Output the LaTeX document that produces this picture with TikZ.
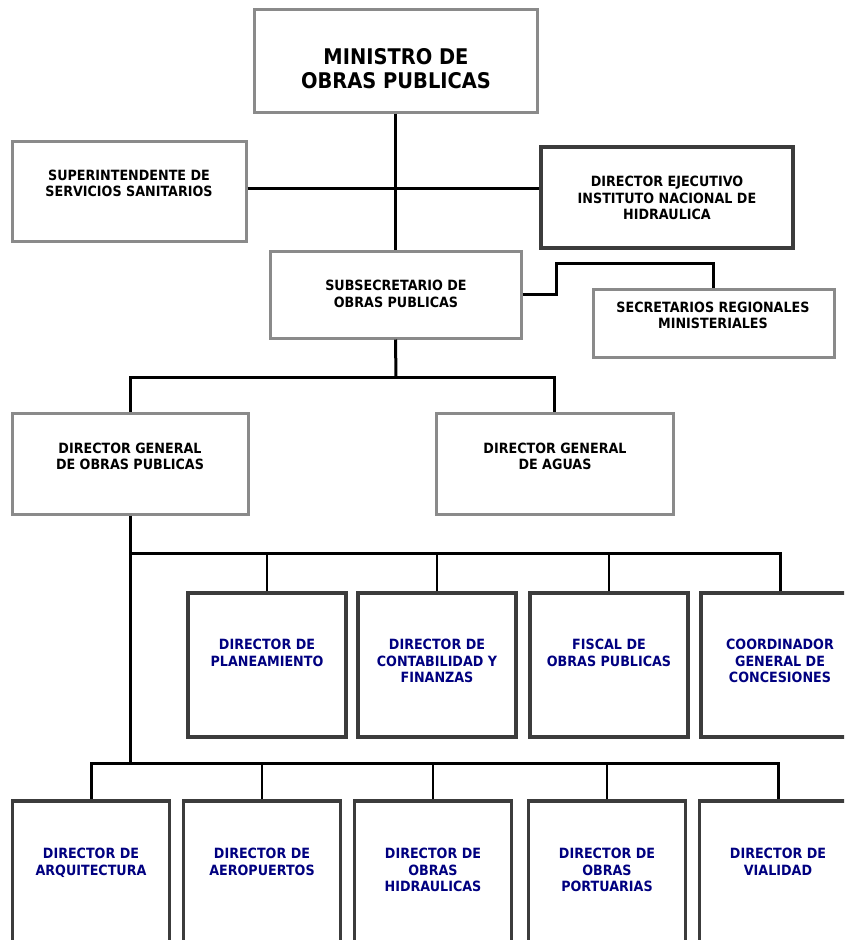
\documentclass[tikz,border=0pt]{standalone}
\usepackage{fontspec}
\setmainfont{DejaVu Sans}[FakeStretch=0.9]
\definecolor{boxgray}{HTML}{8A8A8A}
\definecolor{boxdark}{HTML}{3C3C3C}
\definecolor{navy}{HTML}{000080}
\tikzset{
  sz/.style 2 args={minimum width=#1*0.75pt, minimum height=#2*0.75pt},
  gbox/.style={draw=boxgray, line width=2.25pt, fill=white, inner sep=0pt},
  dbox/.style={draw=boxdark, line width=2.4pt, fill=white, inner sep=0pt},
  txt/.style={align=center, inner sep=0pt, font=\fontsize{10.6}{12.4}\selectfont\bfseries},
  bigtxt/.style={txt, font=\fontsize{16.2}{18}\selectfont\bfseries},
  ntxt/.style={txt, text=navy, anchor=north},
  link/.style={line width=2.25pt},
  drop/.style={line width=1.9pt}
}
\begin{document}
\begin{tikzpicture}[x=0.75pt, y=-0.75pt]
\path[use as bounding box] (0,0) rectangle (844,940);
\clip (0,0) rectangle (844,940);
% upper boxes
\node[gbox, sz={283}{103}] (ministro) at (395.5,60.5) {};
\node[gbox, sz={234}{100}] (superint) at (129,191) {};
\node[dbox, sz={252}{101}] (ejecutivo) at (667,197.5) {};
\node[gbox, sz={251}{87}] (subsec) at (395.5,294.5) {};
\node[gbox, sz={241}{68}] (seremi) at (713.5,323) {};
\node[gbox, sz={236}{101}] (dgop) at (130,463.5) {};
\node[gbox, sz={237}{101}] (dga) at (554.5,463.5) {};
\node[bigtxt] (ministro-t) at (396,69) {MINISTRO DE\\OBRAS PUBLICAS};
\node[txt] (superint-t) at (129,183.5) {SUPERINTENDENTE DE\\SERVICIOS SANITARIOS};
\node[txt] (ejecutivo-t) at (667,198) {DIRECTOR EJECUTIVO\\INSTITUTO NACIONAL DE\\HIDRAULICA};
\node[txt] (subsec-t) at (396,294) {SUBSECRETARIO DE\\OBRAS PUBLICAS};
\node[txt] (seremi-t) at (713,315.5) {SECRETARIOS REGIONALES\\MINISTERIALES};
\node[txt] (dgop-t) at (130,456.5) {DIRECTOR GENERAL\\DE OBRAS PUBLICAS};
\node[txt] (dga-t) at (555,456.5) {DIRECTOR GENERAL\\DE AGUAS};
% third row
\node[dbox, sz={158}{144}] (plan) at (267,665) {};
\node[dbox, sz={158}{144}] (conta) at (437,665) {};
\node[dbox, sz={158}{144}] (fiscal) at (609,665) {};
\node[dbox, sz={158}{144}] (conces) at (780,665) {};
\node[ntxt] (plan-t) at (267,639) {DIRECTOR DE\\PLANEAMIENTO};
\node[ntxt] (conta-t) at (437,639) {DIRECTOR DE\\CONTABILIDAD Y\\FINANZAS};
\node[ntxt] (fiscal-t) at (609,639) {FISCAL DE\\OBRAS PUBLICAS};
\node[ntxt] (conces-t) at (780,639) {COORDINADOR\\GENERAL DE\\CONCESIONES};
% bottom row
\node[dbox, sz={157}{144}] (arq) at (91,873) {};
\node[dbox, sz={157}{144}] (aero) at (262,873) {};
\node[dbox, sz={157}{144}] (hidra) at (433,873) {};
\node[dbox, sz={157}{144}] (port) at (607,873) {};
\node[dbox, sz={157}{144}] (vial) at (778,873) {};
\node[ntxt] (arq-t) at (91,848) {DIRECTOR DE\\ARQUITECTURA};
\node[ntxt] (aero-t) at (262,848) {DIRECTOR DE\\AEROPUERTOS};
\node[ntxt] (hidra-t) at (433,848) {DIRECTOR DE\\OBRAS\\HIDRAULICAS};
\node[ntxt] (port-t) at (607,848) {DIRECTOR DE\\OBRAS\\PORTUARIAS};
\node[ntxt] (vial-t) at (778,848) {DIRECTOR DE\\VIALIDAD};
% lines
\coordinate (j1) at (396,188);
\coordinate (j2) at (556,263);
\coordinate (j3) at (396,377);
\coordinate (j4) at (130,553);
\coordinate (j5) at (130,763);
\draw[link] (ministro.south) -- (subsec.north);
\draw[link] (superint.east |- j1) -- (ejecutivo.west |- j1);
\draw[link] (subsec.east) -| (j2) -| (seremi.north);
\draw[link] (subsec.south) -- (j3);
\draw[link] (dgop.north) |- (j3) -| (dga.north);
\draw[link] (dgop.south) -- (j5);
\draw[link] (j4) -| (conces.north);
\draw[drop] (plan.north) -- (plan.north |- j4);
\draw[drop] (conta.north) -- (conta.north |- j4);
\draw[drop] (fiscal.north) -- (fiscal.north |- j4);
\draw[link] (arq.north) |- (j5) -| (vial.north);
\draw[drop] (aero.north) -- (aero.north |- j5);
\draw[drop] (hidra.north) -- (hidra.north |- j5);
\draw[drop] (port.north) -- (port.north |- j5);
\end{tikzpicture}
\end{document}
